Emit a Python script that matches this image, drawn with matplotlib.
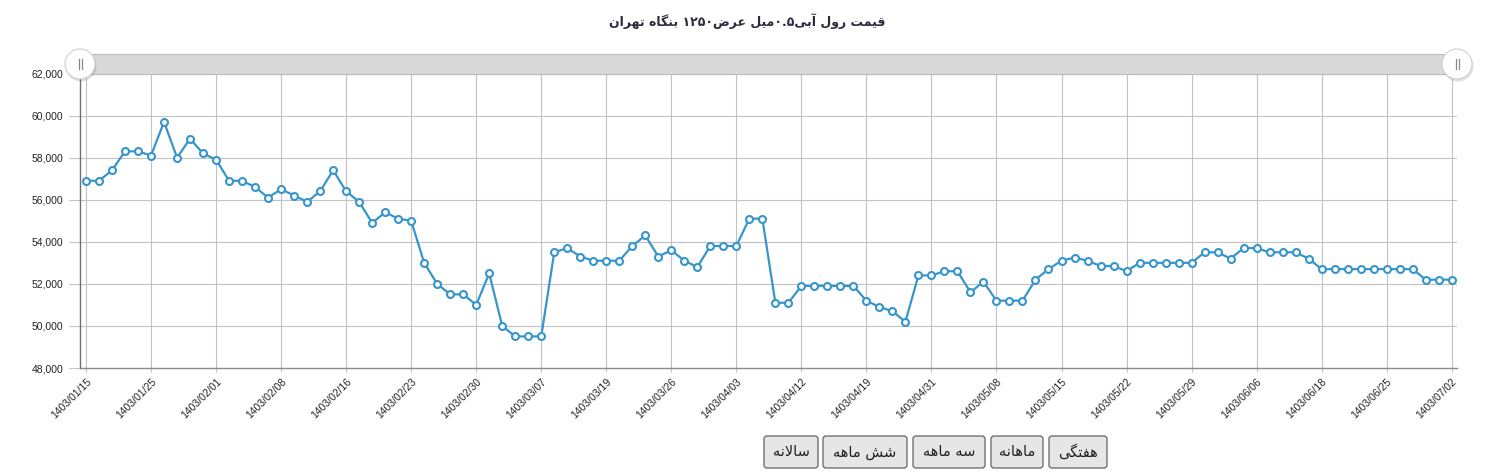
import re
import matplotlib
matplotlib.use("Agg")
import matplotlib.pyplot as plt
from matplotlib.patches import Rectangle, Circle, FancyBboxPatch
from matplotlib.lines import Line2D


# --------------------------------------------------------------
# Data
# --------------------------------------------------------------
title = "قیمت رول آبی۰.۵میل عرض۱۲۵۰ بنگاه تهران"

prices = [
    56900, 56900, 57400, 58300, 58300, 58100, 59700, 58000, 58900, 58200,
    57900, 56900, 56900, 56600, 56100, 56500, 56200, 55900, 56400, 57400,
    56400, 55900, 54900, 55400, 55100, 55000, 53000, 52000, 51500, 51500,
    51000, 52500, 50000, 49500, 49500, 49500, 53500, 53700, 53300, 53100,
    53100, 53100, 53800, 54300, 53300, 53600, 53100, 52800, 53800, 53800,
    53800, 55100, 55100, 51100, 51100, 51900, 51900, 51900, 51900, 51900,
    51200, 50900, 50700, 50200, 52400, 52400, 52600, 52600, 51600, 52100,
    51200, 51200, 51200, 52200, 52700, 53100, 53250, 53100, 52850, 52850,
    52600, 53000, 53000, 53000, 53000, 53000, 53500, 53500, 53200, 53700,
    53700, 53500, 53500, 53500, 53200, 52700, 52700, 52700, 52700, 52700,
    52700, 52700, 52700, 52200, 52200, 52200,
]

tick_labels = [
    "1403/01/15", "1403/01/25", "1403/02/01", "1403/02/08", "1403/02/16",
    "1403/02/23", "1403/02/30", "1403/03/07", "1403/03/19", "1403/03/26",
    "1403/04/03", "1403/04/12", "1403/04/19", "1403/04/31", "1403/05/08",
    "1403/05/15", "1403/05/22", "1403/05/29", "1403/06/06", "1403/06/18",
    "1403/06/25", "1403/07/02",
]
tick_step = 5

range_buttons = ["سالانه", "شش ماهه", "سه ماهه", "ماهانه", "هفتگی"]


# --------------------------------------------------------------
# Helper: Persian shaping (matplotlib has no complex text layout)
# --------------------------------------------------------------
# isolated, final, initial, medial
FORMS = {
    "ا": ("\uFE8D", "\uFE8E", None, None),
    "آ": ("\uFE81", "\uFE82", None, None),
    "ر": ("\uFEAD", "\uFEAE", None, None),
    "و": ("\uFEED", "\uFEEE", None, None),
    "ب": ("\uFE8F", "\uFE90", "\uFE91", "\uFE92"),
    "ت": ("\uFE95", "\uFE96", "\uFE97", "\uFE98"),
    "س": ("\uFEB1", "\uFEB2", "\uFEB3", "\uFEB4"),
    "ش": ("\uFEB5", "\uFEB6", "\uFEB7", "\uFEB8"),
    "ض": ("\uFEBD", "\uFEBE", "\uFEBF", "\uFEC0"),
    "ع": ("\uFEC9", "\uFECA", "\uFECB", "\uFECC"),
    "ف": ("\uFED1", "\uFED2", "\uFED3", "\uFED4"),
    "ق": ("\uFED5", "\uFED6", "\uFED7", "\uFED8"),
    "ل": ("\uFEDD", "\uFEDE", "\uFEDF", "\uFEE0"),
    "م": ("\uFEE1", "\uFEE2", "\uFEE3", "\uFEE4"),
    "ن": ("\uFEE5", "\uFEE6", "\uFEE7", "\uFEE8"),
    "ه": ("\uFEE9", "\uFEEA", "\uFEEB", "\uFEEC"),
    "گ": ("\uFB92", "\uFB93", "\uFB94", "\uFB95"),
    "ی": ("\uFBFC", "\uFBFD", "\uFBFE", "\uFBFF"),
}
LAM_ALEF = {"ا": ("\uFEFB", "\uFEFC"), "آ": ("\uFEF5", "\uFEF6")}


def persian(text: str) -> str:
    """Shape Persian letters and return them in visual (left-to-right) order."""
    chars = list(text)
    out = []
    i = 0
    while i < len(chars):
        c = chars[i]
        if c not in FORMS:
            out.append(c)
            i += 1
            continue
        prev = chars[i - 1] if i > 0 else ""
        prev_joins = prev in FORMS and FORMS[prev][2] is not None
        nxt = chars[i + 1] if i + 1 < len(chars) else ""
        if c == "ل" and nxt in LAM_ALEF:
            out.append(LAM_ALEF[nxt][1 if prev_joins else 0])
            i += 2
            continue
        iso, fin, ini, med = FORMS[c]
        next_joins = ini is not None and nxt in FORMS
        if prev_joins and next_joins:
            out.append(med)
        elif prev_joins:
            out.append(fin)
        elif next_joins:
            out.append(ini)
        else:
            out.append(iso)
        i += 1
    shaped = "".join(out)
    runs = re.findall(r"[۰-۹0-9][۰-۹0-9.,]*|[^۰-۹0-9]+", shaped)
    return "".join(r if r[0].isdigit() else r[::-1] for r in reversed(runs))


# --------------------------------------------------------------
# Figure
# --------------------------------------------------------------
W, H = 1495, 475
fig = plt.figure(figsize=(W / 100, H / 100), dpi=100)
fig.patch.set_facecolor("white")

px_left, px_right, px_top, px_bottom = 80, 1457, 73.5, 368
ax = fig.add_axes([px_left / W, (H - px_bottom) / H,
                   (px_right - px_left) / W, (px_bottom - px_top) / H])

x = list(range(len(prices)))
ax.plot(x, prices, color="#3795cc", linewidth=1.6, marker="o", markersize=5,
        markerfacecolor="white", markeredgecolor="#3795cc", markeredgewidth=1.5,
        zorder=3, clip_on=False)

step_px = (1451.7 - 86) / (len(prices) - 1)
ax.set_xlim(-(86 - px_left) / step_px, len(prices) - 1 + (px_right - 1451.7) / step_px)
ax.set_ylim(48000, 62000)

ax.set_xticks(range(0, len(prices), tick_step))
ax.set_xticklabels(tick_labels, rotation=45, ha="right", va="top",
                   rotation_mode="anchor", fontsize=7.5, family="Liberation Sans",
                   color="#222222")
yticks = list(range(48000, 62001, 2000))
ax.set_yticks(yticks)
ax.set_yticklabels([f"{v:,}" for v in yticks], fontsize=7.5,
                   family="Liberation Sans", color="#222222")

ax.grid(True, color="#c2c2c2", linewidth=0.8)
ax.tick_params(axis="x", length=3, color="#c2c2c2", pad=3)
ax.tick_params(axis="y", length=8, color="#c2c2c2", pad=4)
for side in ("top", "right"):
    ax.spines[side].set_visible(False)
ax.spines["left"].set_color("#707070")
ax.spines["bottom"].set_color("#8a8a8a")
ax.spines["left"].set_linewidth(1.0)
ax.spines["bottom"].set_linewidth(1.0)

# --- Title ---
fig.text(747 / W, 1 - 21 / H, persian(title), ha="center", va="center",
         fontsize=9, fontweight="bold", color="#2b2d3c", family="DejaVu Sans")

# --------------------------------------------------------------
# Overlay in pixel units: navigator bar, handles, range buttons
# --------------------------------------------------------------
ov = fig.add_axes([0, 0, 1, 1], zorder=5)
ov.set_xlim(0, W)
ov.set_ylim(H, 0)
ov.axis("off")

ov.add_patch(Rectangle((px_left, 53.5), px_right - px_left, 20,
                       facecolor="#d9d9d9", edgecolor="#bcbcbc", linewidth=0.8))
for cx in (px_left, px_right):
    ov.add_patch(Circle((cx + 1, 66), 15.5, facecolor="#000000", alpha=0.12,
                        edgecolor="none"))
    ov.add_patch(Circle((cx, 64), 15, facecolor="white", edgecolor="#d0d0d0",
                        linewidth=0.8))
    for dx in (-1.5, 1.5):
        ov.add_line(Line2D([cx + dx, cx + dx], [59, 69], color="#8a8a8a",
                           linewidth=0.9))

button_edges = [(764, 818), (823, 907), (913, 985), (991, 1043), (1049, 1107)]
for label, (x0, x1) in zip(range_buttons, button_edges):
    ov.add_patch(FancyBboxPatch((x0, 436), x1 - x0, 32,
                                boxstyle="round,pad=0,rounding_size=3",
                                facecolor="#e6e6e6", edgecolor="#707070",
                                linewidth=1.0))
    ov.text((x0 + x1) / 2, 452, persian(label), ha="center", va="center",
            fontsize=10.5, color="#222222", family="DejaVu Sans")

fig.savefig("out.png", dpi=100, facecolor="white")
